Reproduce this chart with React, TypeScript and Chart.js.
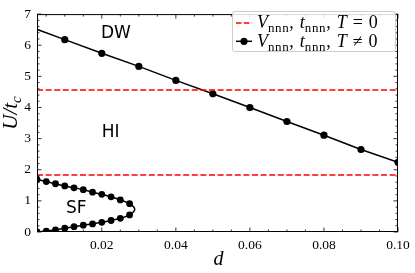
import React, { useEffect, useRef } from 'react';
import { Chart, registerables } from 'chart.js';

Chart.register(...registerables);

// ---- data ----
const X_MIN = 0.0025;
const X_MAX = 0.1;
const Y_MIN = 0;
const Y_MAX = 7;

const xMajorTicks = [0.02, 0.04, 0.06, 0.08, 0.1];
const yMajorTicks = [0, 1, 2, 3, 4, 5, 6, 7];
const xMinorStep = 0.005;
const yMinorStep = 0.2;

// T = 0 phase boundaries (horizontal lines)
const zeroTempU = [4.56, 1.83];

// T != 0 DW-HI boundary
const dwD = [0.0, 0.01, 0.02, 0.03, 0.04, 0.05, 0.06, 0.07, 0.08, 0.09, 0.1];
const dwU = [6.62, 6.18, 5.74, 5.32, 4.87, 4.44, 4.0, 3.55, 3.11, 2.65, 2.24];

// T != 0 SF lobe (upper branch, tip, lower branch)
const sfD = [
  0.0025, 0.005, 0.0075, 0.01, 0.0125, 0.015, 0.0175, 0.02, 0.0225, 0.025, 0.0275,
  0.0289,
  0.0275, 0.025, 0.0225, 0.02, 0.0175, 0.015, 0.0125, 0.01, 0.0075, 0.005, 0.0025,
];
const sfU = [
  1.69, 1.62, 1.55, 1.48, 1.42, 1.36, 1.28, 1.21, 1.13, 1.03, 0.91,
  0.73,
  0.55, 0.44, 0.37, 0.31, 0.26, 0.22, 0.17, 0.12, 0.07, 0.03, 0.0,
];
const sfTipIndex = 11;

const phaseLabels = ['DW', 'HI', 'SF'];
const phaseD = [0.0238, 0.0224, 0.0131];
const phaseU = [6.37, 3.18, 0.76];

const legendTails = ['0', '\u2260'];

const overlayPlugin = {
  id: 'overlay',
  afterDatasetsDraw(chart: any) {
    const { ctx, chartArea: a, scales } = chart;
    const xs = scales.x;
    const ys = scales.y;
    ctx.save();
    ctx.strokeStyle = '#000';
    ctx.lineWidth = 0.8;
    const majorLen = 4.5;
    const minorLen = 2.5;
    const line = (x1: number, y1: number, x2: number, y2: number) => {
      ctx.beginPath();
      ctx.moveTo(x1, y1);
      ctx.lineTo(x2, y2);
      ctx.stroke();
    };
    const isMajor = (v: number, arr: number[]) => arr.some((m) => Math.abs(m - v) < 1e-9);
    for (let i = 1; i * xMinorStep <= X_MAX + 1e-9; i++) {
      const v = i * xMinorStep;
      if (v < X_MIN) continue;
      const px = xs.getPixelForValue(v);
      const len = isMajor(v, xMajorTicks) ? majorLen : minorLen;
      line(px, a.bottom, px, a.bottom - len);
      line(px, a.top, px, a.top + len);
    }
    for (let i = 0; i * yMinorStep <= Y_MAX + 1e-9; i++) {
      const v = Math.round(i * yMinorStep * 10) / 10;
      const py = ys.getPixelForValue(v);
      const len = isMajor(v, yMajorTicks) ? majorLen : minorLen;
      line(a.left, py, a.left + len, py);
      line(a.right, py, a.right - len, py);
    }
    ctx.lineWidth = 1;
    ctx.strokeRect(a.left + 0.5, a.top + 0.5, a.right - a.left - 1, a.bottom - a.top - 1);

    ctx.fillStyle = '#000';
    ctx.font = '17px "DejaVu Sans"';
    ctx.textAlign = 'center';
    ctx.textBaseline = 'middle';
    phaseLabels.forEach((t, i) => {
      ctx.fillText(t, xs.getPixelForValue(phaseD[i]), ys.getPixelForValue(phaseU[i]));
    });

    ctx.font = 'italic 20px "Liberation Serif"';
    ctx.textAlign = 'center';
    ctx.textBaseline = 'alphabetic';
    ctx.fillText('d', (a.left + a.right) / 2 + 1, 265);

    ctx.save();
    ctx.translate(17, 113);
    ctx.rotate(-Math.PI / 2);
    ctx.font = 'italic 21px "Liberation Serif"';
    const main = 'U/t';
    const wMain = ctx.measureText(main).width;
    ctx.font = 'italic 15px "Liberation Serif"';
    const wSub = ctx.measureText('c').width;
    const start = -(wMain + wSub) / 2;
    ctx.textAlign = 'left';
    ctx.font = 'italic 21px "Liberation Serif"';
    ctx.fillText(main, start, 0);
    ctx.font = 'italic 15px "Liberation Serif"';
    ctx.fillText('c', start + wMain, 4);
    ctx.restore();

    ctx.restore();
  },
};

export default function App() {
  const ref = useRef<HTMLCanvasElement | null>(null);

  useEffect(() => {
    if (!ref.current) return;
    const red = '#ff0000';
    const datasets: any[] = [
      ...zeroTempU.map((u) => ({
        label: 'T=0',
        data: [
          { x: X_MIN, y: u },
          { x: X_MAX, y: u },
        ],
        showLine: true,
        borderColor: red,
        borderWidth: 1.5,
        borderDash: [6, 2.6],
        pointRadius: 0,
        clip: 0,
      })),
      {
        label: 'DW',
        data: dwD.map((d, i) => ({ x: d, y: dwU[i] })),
        showLine: true,
        borderColor: '#000',
        backgroundColor: '#000',
        borderWidth: 1.5,
        pointRadius: 3.6,
        pointBorderWidth: 0,
        pointBackgroundColor: '#000',
        clip: 0,
      },
      {
        label: 'SF',
        data: sfD.map((d, i) => ({ x: d, y: sfU[i] })),
        showLine: true,
        borderColor: '#000',
        backgroundColor: '#000',
        borderWidth: 1.5,
        tension: 0.3,
        pointRadius: sfD.map((_, i) => (i === sfTipIndex ? 0 : 3.4)),
        pointBorderWidth: 0,
        pointBackgroundColor: '#000',
        clip: 0,
      },
    ];

    const tickFont = { family: '"Liberation Serif"', size: 13.5 };
    const chart = new Chart(ref.current, {
      type: 'scatter',
      data: { datasets },
      options: {
        animation: false,
        responsive: false,
        maintainAspectRatio: false,
        events: [],
        layout: { padding: { left: 0, top: 8, right: 17, bottom: 0 } },
        plugins: { legend: { display: false }, tooltip: { enabled: false } },
        scales: {
          x: {
            type: 'linear',
            min: X_MIN,
            max: X_MAX,
            grid: { display: false, drawTicks: false },
            border: { display: false },
            afterBuildTicks: (s: any) => {
              s.ticks = xMajorTicks.map((v) => ({ value: v }));
            },
            afterFit: (s: any) => {
              s.height = 41;
            },
            ticks: {
              color: '#000',
              font: tickFont,
              padding: 5,
              maxRotation: 0,
              autoSkip: false,
              callback: (v: any) => Number(v).toFixed(2),
            },
          },
          y: {
            type: 'linear',
            min: Y_MIN,
            max: Y_MAX,
            grid: { display: false, drawTicks: false },
            border: { display: false },
            afterBuildTicks: (s: any) => {
              s.ticks = yMajorTicks.map((v) => ({ value: v }));
            },
            afterFit: (s: any) => {
              s.width = 37;
            },
            ticks: {
              color: '#000',
              font: tickFont,
              padding: 6,
              autoSkip: false,
              callback: (v: any) => String(v),
            },
          },
        },
      },
      plugins: [overlayPlugin],
    });
    return () => chart.destroy();
  }, []);

  const serif = '"Liberation Serif", serif';
  const subStyle: React.CSSProperties = {
    fontSize: '13px',
    fontStyle: 'normal',
    position: 'relative',
    top: '4px',
    letterSpacing: '0.6px',
  };
  const gap = (w: number) => <span style={{ display: 'inline-block', width: w }} />;
  const labelBody = (rel: string) => (
    <span style={{ fontFamily: serif, fontSize: '18px', whiteSpace: 'nowrap', color: '#000' }}>
      <i>V</i>
      <span style={subStyle}>nnn</span>,{gap(6)}
      <i>t</i>
      <span style={subStyle}>nnn</span>,{gap(6)}
      <i>T</i>
      {gap(6)}
      {rel === '0' ? '=' : '\u2260'}
      {gap(6)}0
    </span>
  );

  return (
    <div style={{ position: 'absolute', left: 0, top: 0, width: 415, height: 273, background: '#fff' }}>
      <canvas ref={ref} width={415} height={273} style={{ display: 'block' }} />
      <div
        style={{
          position: 'absolute',
          left: 232,
          top: 11,
          width: 164,
          height: 41,
          border: '1px solid #cccccc',
          borderRadius: 3,
          background: 'rgba(255,255,255,0.85)',
          boxSizing: 'border-box',
        }}
      >
        <svg
          width={22}
          height={40}
          style={{ position: 'absolute', left: 0, top: 0 }}
        >
          <line x1={3} y1={11} x2={19} y2={11} stroke="#ff0000" strokeWidth={1.5} strokeDasharray="5.5 2.4" />
          <line x1={3} y1={29.3} x2={19} y2={29.3} stroke="#000" strokeWidth={1.5} />
          <circle cx={11} cy={29.3} r={3.6} fill="#000" />
        </svg>
        <div style={{ position: 'absolute', left: 24, top: 0, height: 20, lineHeight: '20px' }}>
          {labelBody(legendTails[0])}
        </div>
        <div style={{ position: 'absolute', left: 24, top: 18.5, height: 20, lineHeight: '20px' }}>
          {labelBody(legendTails[1])}
        </div>
      </div>
    </div>
  );
}
